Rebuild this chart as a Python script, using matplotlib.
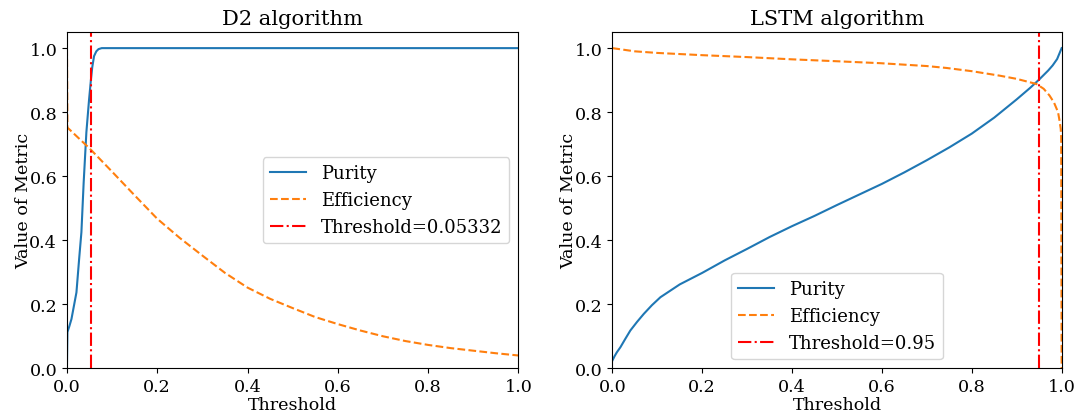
import matplotlib
matplotlib.use("Agg")
import matplotlib.pyplot as plt

plt.rcParams["font.family"] = "DejaVu Serif"
plt.rcParams["font.size"] = 12.6

# D2 algorithm curves
d2_thr_purity = [0.0, 0.001, 0.005, 0.01, 0.021, 0.027, 0.032, 0.037, 0.043,
                 0.049, 0.053, 0.056, 0.06, 0.065, 0.07, 0.077, 0.1, 1.0]
d2_purity = [0.01, 0.113, 0.13, 0.154, 0.237, 0.342, 0.425, 0.58, 0.737,
             0.84, 0.9, 0.94, 0.975, 0.99, 0.997, 1.0, 1.0, 1.0]
d2_thr_eff = [0.0, 0.001, 0.025, 0.05, 0.1, 0.15, 0.2, 0.25, 0.3, 0.35, 0.4,
              0.45, 0.5, 0.55, 0.6, 0.65, 0.7, 0.75, 0.8, 0.85, 0.9, 0.95,
              1.0]
d2_eff = [1.0, 0.752, 0.72, 0.687, 0.614, 0.54, 0.467, 0.407, 0.352, 0.298,
          0.252, 0.217, 0.188, 0.16, 0.138, 0.118, 0.1, 0.085, 0.073, 0.063,
          0.055, 0.047, 0.04]
d2_cut = 0.05332

# LSTM algorithm curves
lstm_thr_purity = [0.0, 0.005, 0.01, 0.018, 0.028, 0.04, 0.055, 0.07, 0.088,
                   0.107, 0.15, 0.2, 0.25, 0.3, 0.35, 0.4, 0.45, 0.5, 0.55,
                   0.6, 0.65, 0.7, 0.75, 0.8, 0.85, 0.9, 0.93, 0.95, 0.97,
                   0.98, 0.99, 1.0]
lstm_purity = [0.024, 0.038, 0.05, 0.066, 0.09, 0.118, 0.145, 0.17, 0.197,
               0.222, 0.262, 0.298, 0.337, 0.373, 0.41, 0.444, 0.476, 0.51,
               0.543, 0.576, 0.612, 0.65, 0.69, 0.733, 0.783, 0.84, 0.876,
               0.902, 0.93, 0.946, 0.966, 1.0]
lstm_thr_eff = [0.0, 0.05, 0.1, 0.2, 0.3, 0.4, 0.5, 0.596, 0.7, 0.744, 0.8,
                0.862, 0.9, 0.944, 0.96, 0.973, 0.983, 0.992, 0.995, 0.998,
                0.999, 1.0]
lstm_eff = [1.0, 0.99, 0.985, 0.978, 0.972, 0.965, 0.959, 0.953, 0.944,
            0.938, 0.928, 0.914, 0.904, 0.888, 0.873, 0.852, 0.83, 0.8,
            0.776, 0.748, 0.72, 0.0]
lstm_cut = 0.95

fig = plt.figure(figsize=(10.8, 4.14), dpi=100)
ax1 = fig.add_axes([0.062, 0.108, 0.418, 0.812])
ax2 = fig.add_axes([0.567, 0.108, 0.416, 0.812])

panels = [
    (ax1, "D2 algorithm", d2_thr_purity, d2_purity, d2_thr_eff, d2_eff,
     d2_cut, "Threshold=0.05332", "center right"),
    (ax2, "LSTM algorithm", lstm_thr_purity, lstm_purity, lstm_thr_eff,
     lstm_eff, lstm_cut, "Threshold=0.95", "lower center"),
]

for ax, title, tp, p, te, e, cut, cut_label, loc in panels:
    ax.plot(tp, p, color="tab:blue", label="Purity")
    ax.plot(te, e, color="tab:orange", linestyle="--", label="Efficiency")
    ax.axvline(cut, color="red", linestyle="-.", label=cut_label)
    ax.set_xlim(0, 1)
    ax.set_ylim(0, 1.05)
    ax.set_title(title)
    ax.set_xlabel("Threshold", labelpad=1)
    ax.set_ylabel("Value of Metric", labelpad=-2)
    ax.legend(loc=loc, fontsize=13)

fig.savefig("out.png", dpi=100)
